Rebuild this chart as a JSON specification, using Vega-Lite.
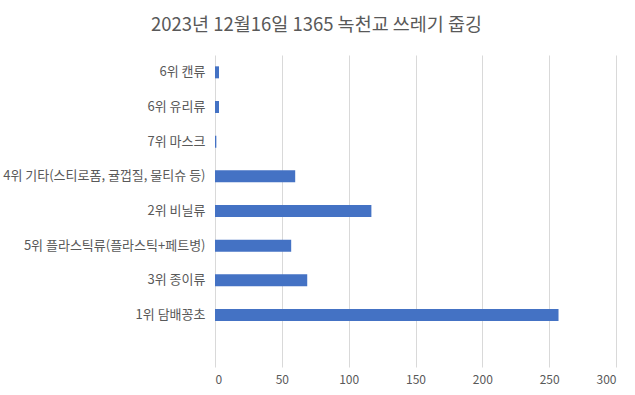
{
  "$schema": "https://vega.github.io/schema/vega-lite/v6.json",
  "autosize": "none",
  "width": 401,
  "height": 312,
  "padding": {"left": 215, "top": 55, "right": 19, "bottom": 28},
  "background": "white",
  "title": {
    "text": "2023년 12월16일 1365 녹천교 쓰레기 줍깅",
    "font": "Noto Sans CJK KR",
    "fontSize": 18.5,
    "fontWeight": "normal",
    "color": "#595959",
    "anchor": "middle",
    "dx": -99,
    "offset": 21
  },
  "data": {
    "values": [
      {"category": "6위 캔류", "count": 3},
      {"category": "6위 유리류", "count": 3},
      {"category": "7위 마스크", "count": 1},
      {"category": "4위 기타(스티로폼, 귤껍질, 물티슈 등)", "count": 60},
      {"category": "2위 비닐류", "count": 117},
      {"category": "5위 플라스틱류(플라스틱+페트병)", "count": 57},
      {"category": "3위 종이류", "count": 69},
      {"category": "1위 담배꽁초", "count": 257}
    ]
  },
  "mark": {"type": "bar", "color": "#4472C4"},
  "encoding": {
    "y": {
      "field": "category",
      "type": "nominal",
      "sort": null,
      "scale": {
        "domain": ["6위 캔류", "6위 유리류", "7위 마스크", "4위 기타(스티로폼, 귤껍질, 물티슈 등)", "2위 비닐류", "5위 플라스틱류(플라스틱+페트병)", "3위 종이류", "1위 담배꽁초", " "],
        "paddingInner": 0.654,
        "paddingOuter": 0.327
      },
      "axis": {
        "title": null,
        "domain": false,
        "ticks": false,
        "labelFont": "Noto Sans CJK KR",
        "labelFontSize": 13,
        "labelColor": "#595959",
        "labelPadding": 10,
        "labelLimit": 300
      }
    },
    "x": {
      "field": "count",
      "type": "quantitative",
      "scale": {"domain": [0, 300], "nice": false},
      "axis": {
        "title": null,
        "values": [0, 50, 100, 150, 200, 250, 300],
        "domain": false,
        "ticks": false,
        "grid": true,
        "gridColor": "#D9D9D9",
        "gridWidth": 1,
        "labelFont": "Noto Sans CJK KR",
        "labelFontSize": 12,
        "labelColor": "#595959",
        "labelPadding": 7
      }
    }
  },
  "config": {"view": {"stroke": null}}
}
